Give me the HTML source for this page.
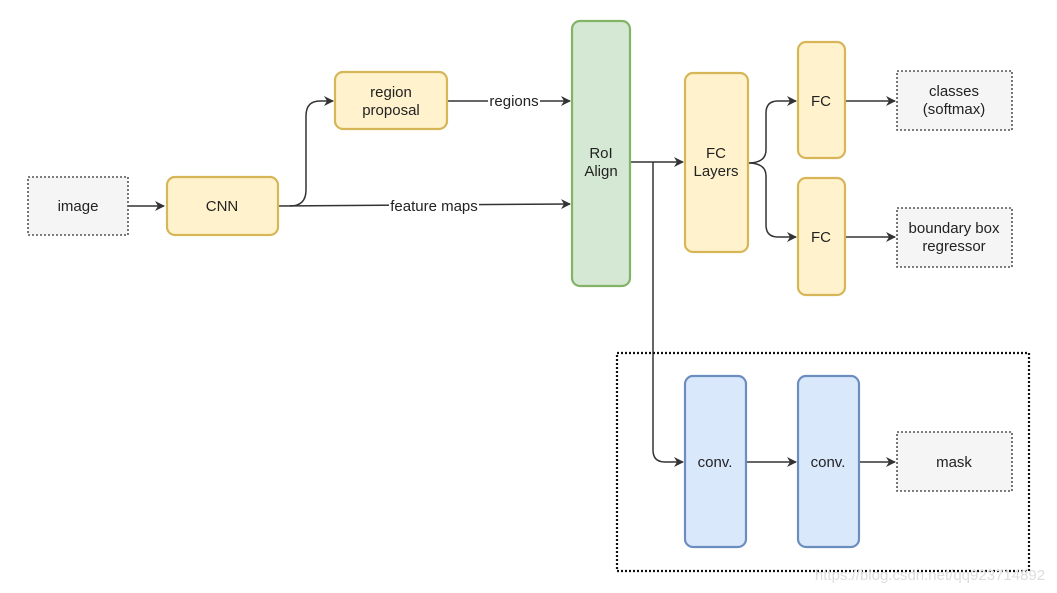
<!DOCTYPE html>
<html><head><meta charset="utf-8"><style>
html,body{margin:0;padding:0;background:#fff;}
svg{display:block;}
text{font-family:"Liberation Sans",Arial,sans-serif;font-size:15px;fill:#222;text-anchor:middle;}
</style></head><body>
<svg width="1057" height="593" viewBox="0 0 1057 593" xmlns="http://www.w3.org/2000/svg">
<defs>
<marker id="a" markerWidth="10" markerHeight="10" refX="9" refY="5" orient="auto" markerUnits="userSpaceOnUse">
<path d="M0,0 L10,5 L0,10 L3,5 z" fill="#333"/>
</marker>
</defs>
<g fill="none" stroke="#333" stroke-width="1.5">
<path d="M128,206 L164,206" marker-end="url(#a)"/>
<path d="M278,206 L570,204" marker-end="url(#a)"/>
<path d="M290,206 Q306,206 306,190 L306,116 Q306,101 320,101 L333,101" marker-end="url(#a)"/>
<path d="M447,101 L570,101" marker-end="url(#a)"/>
<path d="M630,162 L683,162" marker-end="url(#a)"/>
<path d="M653,162 L653,450 Q653,462 665,462 L683,462" marker-end="url(#a)"/>
<path d="M748,163 Q766,163 766,150 L766,113 Q766,101 778,101 L796,101" marker-end="url(#a)"/>
<path d="M748,163 Q766,163 766,176 L766,225 Q766,237 778,237 L796,237" marker-end="url(#a)"/>
<path d="M845,101 L895,101" marker-end="url(#a)"/>
<path d="M845,237 L895,237" marker-end="url(#a)"/>
<path d="M746,462 L796,462" marker-end="url(#a)"/>
<path d="M859,462 L895,462" marker-end="url(#a)"/>
</g>
<rect x="617" y="353" width="412" height="218" fill="none" stroke="#111" stroke-width="2.2" stroke-dasharray="2,2"/>
<g stroke="#555" stroke-width="1.6" stroke-dasharray="2,2" fill="#f5f5f5">
<rect x="28" y="177" width="100" height="58"/>
<rect x="897" y="71" width="115" height="59"/>
<rect x="897" y="208" width="115" height="59"/>
<rect x="897" y="432" width="115" height="59"/>
</g>
<g fill="#fff2cc" stroke="#d6b656" stroke-width="2.2">
<rect x="167" y="177" width="111" height="58" rx="8"/>
<rect x="335" y="72" width="112" height="57" rx="8"/>
<rect x="685" y="73" width="63" height="179" rx="8"/>
<rect x="798" y="42" width="47" height="116" rx="8"/>
<rect x="798" y="178" width="47" height="117" rx="8"/>
</g>
<rect x="572" y="21" width="58" height="265" rx="8" fill="#d5e8d4" stroke="#82b366" stroke-width="2.2"/>
<g fill="#dae8fc" stroke="#6c8ebf" stroke-width="2.2">
<rect x="685" y="376" width="61" height="171" rx="8"/>
<rect x="798" y="376" width="61" height="171" rx="8"/>
</g>
<rect x="389" y="197" width="90" height="18" fill="#fff"/>
<rect x="488" y="93" width="52" height="17" fill="#fff"/>
<text x="78" y="211">image</text>
<text x="222" y="211">CNN</text>
<text x="391" y="97">region</text>
<text x="391" y="115">proposal</text>
<text x="514" y="106">regions</text>
<text x="434" y="211">feature maps</text>
<text x="601" y="158">RoI</text>
<text x="601" y="176">Align</text>
<text x="716" y="158">FC</text>
<text x="716" y="176">Layers</text>
<text x="821" y="106">FC</text>
<text x="821" y="242">FC</text>
<text x="954" y="96">classes</text>
<text x="954" y="114">(softmax)</text>
<text x="954" y="233">boundary box</text>
<text x="954" y="251">regressor</text>
<text x="715" y="467">conv.</text>
<text x="828" y="467">conv.</text>
<text x="954" y="467">mask</text>
<text x="930" y="580" style="fill:#ddd;font-size:15px">https://blog.csdn.net/qq923714892</text>
</svg>
</body></html>
